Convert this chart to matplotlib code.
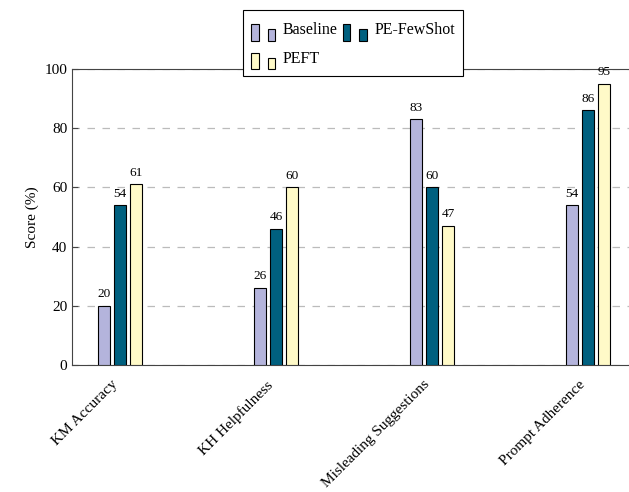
import matplotlib.pyplot as plt
from matplotlib.patches import Rectangle
from matplotlib.legend_handler import HandlerBase
import numpy as np

plt.rcParams['font.family'] = ['Liberation Serif', 'DejaVu Serif']
plt.rcParams['font.size'] = 11

categories = ['KM Accuracy', 'KH Helpfulness', 'Misleading Suggestions', 'Prompt Adherence']
series_names = ['Baseline', 'PE-FewShot', 'PEFT']
baseline = [20, 26, 83, 54]
pe_fewshot = [54, 46, 60, 86]
peft = [61, 60, 47, 95]
yticks = [0, 20, 40, 60, 80, 100]

colors = ['#b4b4dc', '#00607f', '#fffac8']
values = [baseline, pe_fewshot, peft]


class TwoBarHandler(HandlerBase):
    # pgfplots style ybar legend image: two small bars
    def create_artists(self, legend, orig_handle, xdescent, ydescent,
                       width, height, fontsize, trans):
        fc = orig_handle.get_facecolor()
        w = width * 0.3
        base = -ydescent - height * 0.05
        r1 = Rectangle((-xdescent, base), w, height * 0.75, facecolor=fc,
                       edgecolor='black', linewidth=0.8, transform=trans)
        r2 = Rectangle((-xdescent + width * 0.65, base), w, height * 0.55, facecolor=fc,
                       edgecolor='black', linewidth=0.8, transform=trans)
        return [r1, r2]


fig = plt.figure(figsize=(6.29, 4.92), dpi=100)
ax = fig.add_axes([72 / 629, (492 - 365) / 492, (636 - 72) / 629, (365 - 69) / 492])

x = np.arange(len(categories))
width = 0.072
offset = 0.103

handles = []
for i, (name, vals) in enumerate(zip(series_names, values)):
    bars = ax.bar(x + (i - 1) * offset, vals, width, color=colors[i],
                  edgecolor='black', linewidth=0.8, zorder=3)
    for b, v in zip(bars, vals):
        ax.annotate(str(v), (b.get_x() + b.get_width() / 2, v), xytext=(0, 4),
                    textcoords='offset points', ha='center', va='bottom', fontsize=9.5)
    handles.append(Rectangle((0, 0), 1, 1, facecolor=colors[i], edgecolor='black'))

ax.set_xlim(-0.308, 3.308)
ax.set_ylim(0, 100)
ax.set_yticks(yticks)
ax.set_xticks(x)
ax.set_xticklabels([])
ax.tick_params(axis='x', length=0)
for xi, cat in zip(x, categories):
    ax.annotate(cat, (xi, 0), xycoords=('data', 'axes fraction'), xytext=(0, -13),
                textcoords='offset pixels', rotation=45, ha='right', va='top',
                fontsize=11)
ax.tick_params(axis='y', direction='in', length=4, color='#444444')
ax.set_ylabel('Score (%)')
ax.yaxis.grid(True, linestyle=(0, (6, 6)), color='#bbbbbb', linewidth=0.9, zorder=0)
for s in ['left', 'bottom', 'top']:
    ax.spines[s].set_color('#444444')
ax.spines['right'].set_visible(False)

# row-major order: Baseline, PE-FewShot / PEFT
order = [0, 2, 1]
leg = fig.legend([handles[k] for k in order], [series_names[k] for k in order],
                 ncol=2, loc='upper center',
                 bbox_to_anchor=(353 / 629, 1 - 10 / 492), borderaxespad=0,
                 handler_map={Rectangle: TwoBarHandler()},
                 handlelength=1.6, handleheight=1.7, columnspacing=0.3,
                 handletextpad=0.4, labelspacing=0.45, fancybox=False, framealpha=1,
                 edgecolor='black', fontsize=11.5, borderpad=0.5)
leg.get_frame().set_linewidth(0.8)
leg.set_zorder(10)

plt.savefig('out.png', dpi=100)
